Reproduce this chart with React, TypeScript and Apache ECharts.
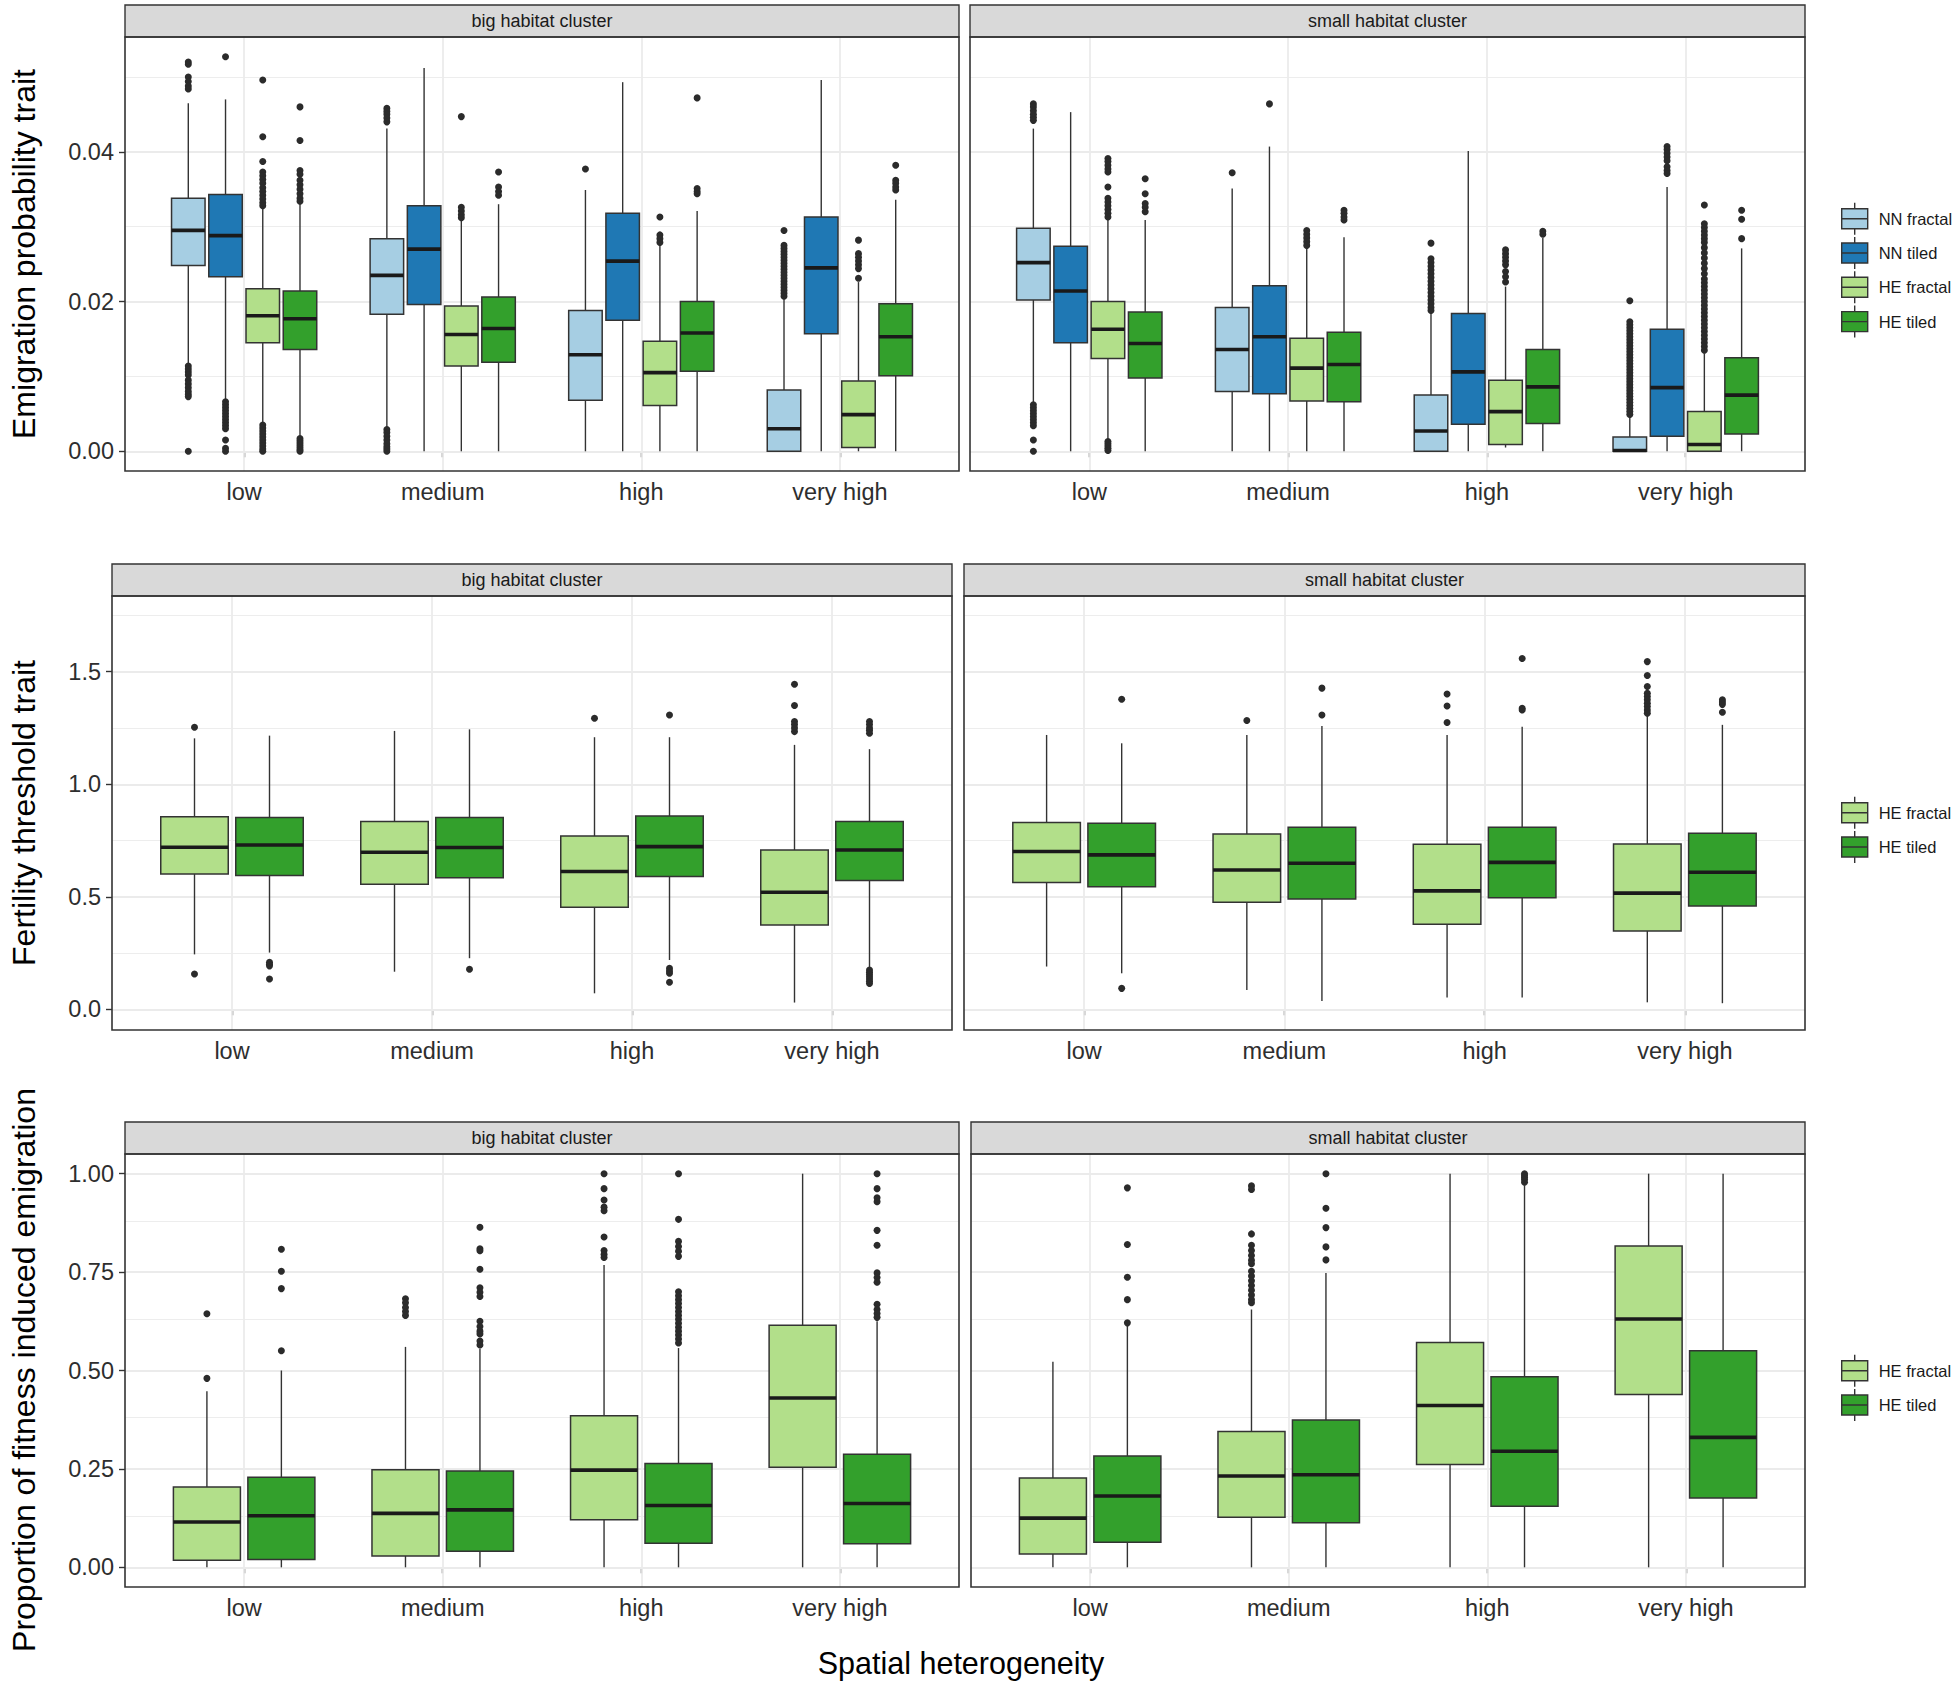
import React, { useEffect, useRef } from 'react';
import * as echarts from 'echarts';

const categories = ['low', 'medium', 'high', 'very high'];
const seriesNames = ['NN fractal', 'NN tiled', 'HE fractal', 'HE tiled'];
const seriesColors = ['#A6CEE3', '#1F78B4', '#B2DF8A', '#33A02C'];
const facetNames = ['big habitat cluster', 'small habitat cluster'];
const yTitles = ['Emigration probability trait', 'Fertility threshold trait', 'Proportion of fitness induced emigration'];
const xTitle = 'Spatial heterogeneity';

const emigTicks = [0, 0.02, 0.04];
const emigMinor = [0.01, 0.03, 0.05];
const fertTicks = [0, 0.5, 1.0, 1.5];
const fertMinor = [0.25, 0.75, 1.25, 1.75];
const propTicks = [0, 0.25, 0.5, 0.75, 1.0];
const propMinor = [0.125, 0.375, 0.625, 0.875];

// box stats per category: [min whisker, Q1, median, Q3, max whisker]
// ---- Emigration probability trait, big habitat cluster
const emigBigNNfractal = [[0.0118, 0.0248, 0.0295, 0.0338, 0.0465], [0.0031, 0.0183, 0.0235, 0.0284, 0.0431], [0.0, 0.0068, 0.0129, 0.0188, 0.0349], [0.0, 0.0, 0.0030, 0.0082, 0.0203]];
const emigBigNNfractalOut = [
  [0.0520, 0.0517, 0.0500, 0.0494, 0.0488, 0.0484, 0.0114, 0.0110, 0.0106, 0.0102, 0.0095, 0.0090, 0.0085, 0.0080, 0.0076, 0.0073, 0.0],
  [0.0458, 0.0454, 0.0450, 0.0445, 0.0440, 0.0029, 0.0025, 0.0020, 0.0015, 0.0010, 0.0006, 0.0003, 0.0],
  [0.0377],
  [0.0295, 0.0275, 0.0271, 0.0267, 0.0263, 0.0259, 0.0255, 0.0251, 0.0247, 0.0243, 0.0239, 0.0235, 0.0231, 0.0227, 0.0223, 0.0219, 0.0215, 0.0211, 0.0207],
];
const emigBigNNtiled = [[0.0068, 0.0233, 0.0288, 0.0343, 0.0470], [0.0, 0.0196, 0.0270, 0.0328, 0.0512], [0.0, 0.0175, 0.0254, 0.0318, 0.0493], [0.0, 0.0157, 0.0245, 0.0313, 0.0496]];
const emigBigNNtiledOut = [[0.0527, 0.0066, 0.0062, 0.0058, 0.0054, 0.0050, 0.0046, 0.0042, 0.0038, 0.0034, 0.0030, 0.0015, 0.0004, 0.0], [], [], []];
const emigBigHEfractal = [[0.0037, 0.0145, 0.0181, 0.0217, 0.0325], [0.0, 0.0114, 0.0156, 0.0194, 0.0309], [0.0, 0.0061, 0.0105, 0.0147, 0.0275], [0.0, 0.0005, 0.0049, 0.0094, 0.0226]];
const emigBigHEfractalOut = [
  [0.0496, 0.0420, 0.0387, 0.0373, 0.0368, 0.0363, 0.0358, 0.0352, 0.0347, 0.0342, 0.0337, 0.0332, 0.0328, 0.0035, 0.0031, 0.0027, 0.0023, 0.0019, 0.0015, 0.0011, 0.0007, 0.0003, 0.0],
  [0.0447, 0.0326, 0.0321, 0.0316, 0.0312],
  [0.0313, 0.0289, 0.0284, 0.0279],
  [0.0282, 0.0264, 0.0259, 0.0254, 0.0249, 0.0244, 0.0231],
];
const emigBigHEtiled = [[0.0018, 0.0136, 0.0177, 0.0214, 0.0331], [0.0, 0.0119, 0.0164, 0.0206, 0.0330], [0.0, 0.0107, 0.0158, 0.0200, 0.0321], [0.0, 0.0101, 0.0153, 0.0197, 0.0336]];
const emigBigHEtiledOut = [
  [0.0460, 0.0415, 0.0375, 0.0370, 0.0362, 0.0356, 0.0350, 0.0344, 0.0338, 0.0334, 0.0017, 0.0014, 0.0011, 0.0008, 0.0005, 0.0002, 0.0],
  [0.0373, 0.0353, 0.0347, 0.0342],
  [0.0472, 0.0351, 0.0347, 0.0344],
  [0.0382, 0.0362, 0.0358, 0.0353, 0.0349],
];
// ---- Emigration probability trait, small habitat cluster
const emigSmallNNfractal = [[0.0060, 0.0202, 0.0252, 0.0298, 0.0431], [0.0, 0.0080, 0.0136, 0.0192, 0.0351], [0.0, 0.0, 0.0027, 0.0075, 0.0186], [0.0, 0.0, 0.0001, 0.0019, 0.0047]];
const emigSmallNNfractalOut = [
  [0.0464, 0.0460, 0.0455, 0.0450, 0.0446, 0.0442, 0.0062, 0.0058, 0.0054, 0.0050, 0.0046, 0.0042, 0.0038, 0.0034, 0.0015, 0.0],
  [0.0372],
  [0.0278, 0.0257, 0.0252, 0.0247, 0.0242, 0.0237, 0.0232, 0.0227, 0.0222, 0.0217, 0.0212, 0.0207, 0.0202, 0.0197, 0.0192, 0.0188],
  [0.0201, 0.0173, 0.0169, 0.0165, 0.0161, 0.0157, 0.0153, 0.0149, 0.0145, 0.0141, 0.0137, 0.0133, 0.0129, 0.0125, 0.0121, 0.0117, 0.0113, 0.0109, 0.0105, 0.0101, 0.0097, 0.0093, 0.0089, 0.0085, 0.0081, 0.0077, 0.0073, 0.0069, 0.0065, 0.0061, 0.0057, 0.0053, 0.0049],
];
const emigSmallNNtiled = [[0.0, 0.0145, 0.0214, 0.0274, 0.0453], [0.0, 0.0077, 0.0153, 0.0221, 0.0407], [0.0, 0.0036, 0.0106, 0.0184, 0.0401], [0.0, 0.0020, 0.0085, 0.0163, 0.0353]];
const emigSmallNNtiledOut = [[], [0.0464], [], [0.0407, 0.0403, 0.0398, 0.0393, 0.0388, 0.0380, 0.0375, 0.0371]];
const emigSmallHEfractal = [[0.0015, 0.0124, 0.0163, 0.0200, 0.0311], [0.0, 0.0067, 0.0111, 0.0151, 0.0271], [0.0005, 0.0009, 0.0053, 0.0095, 0.0220], [0.0, 0.0, 0.0009, 0.0053, 0.0131]];
const emigSmallHEfractalOut = [
  [0.0391, 0.0387, 0.0382, 0.0377, 0.0373, 0.0353, 0.0338, 0.0333, 0.0328, 0.0323, 0.0318, 0.0313, 0.0013, 0.0010, 0.0007, 0.0004, 0.0001],
  [0.0295, 0.0290, 0.0285, 0.0280, 0.0275],
  [0.0269, 0.0264, 0.0259, 0.0254, 0.0249, 0.0240, 0.0233, 0.0226],
  [0.0329, 0.0304, 0.0299, 0.0294, 0.0289, 0.0284, 0.0279, 0.0272, 0.0265, 0.0258, 0.0251, 0.0244, 0.0237, 0.0230, 0.0225, 0.0220, 0.0215, 0.0210, 0.0205, 0.0200, 0.0195, 0.0190, 0.0185, 0.0180, 0.0175, 0.0170, 0.0165, 0.0160, 0.0155, 0.0150, 0.0145, 0.0140, 0.0135],
];
const emigSmallHEtiled = [[0.0, 0.0098, 0.0144, 0.0186, 0.0309], [0.0, 0.0066, 0.0116, 0.0159, 0.0286], [0.0, 0.0037, 0.0086, 0.0136, 0.0285], [0.0, 0.0023, 0.0075, 0.0125, 0.0271]];
const emigSmallHEtiledOut = [[0.0364, 0.0344, 0.0331, 0.0326, 0.0320], [0.0322, 0.0318, 0.0313, 0.0309], [0.0294, 0.0290], [0.0322, 0.0310, 0.0284]];

// ---- Fertility threshold trait
const fertBigHEfractal = [[0.244, 0.601, 0.720, 0.856, 1.204], [0.167, 0.556, 0.698, 0.834, 1.237], [0.071, 0.453, 0.612, 0.770, 1.209], [0.030, 0.375, 0.520, 0.708, 1.175]];
const fertBigHEfractalOut = [[1.253, 0.157], [], [1.293], [1.444, 1.350, 1.279, 1.265, 1.250, 1.234]];
const fertBigHEtiled = [[0.252, 0.594, 0.730, 0.852, 1.216], [0.227, 0.584, 0.719, 0.852, 1.244], [0.219, 0.590, 0.723, 0.859, 1.209], [0.182, 0.572, 0.708, 0.834, 1.156]];
const fertBigHEtiledOut = [[0.209, 0.200, 0.193, 0.135], [0.178], [1.308, 0.182, 0.170, 0.160, 0.120], [1.279, 1.265, 1.250, 1.240, 1.227, 0.175, 0.165, 0.155, 0.145, 0.135, 0.125, 0.115]];
const fertSmallHEfractal = [[0.190, 0.563, 0.701, 0.830, 1.219], [0.086, 0.476, 0.619, 0.779, 1.219], [0.052, 0.378, 0.526, 0.733, 1.219], [0.031, 0.348, 0.516, 0.735, 1.308]];
const fertSmallHEfractalOut = [[], [1.283], [1.401, 1.348, 1.274], [1.545, 1.483, 1.434, 1.404, 1.390, 1.375, 1.360, 1.345, 1.330, 1.316]];
const fertSmallHEtiled = [[0.160, 0.545, 0.686, 0.827, 1.182], [0.037, 0.490, 0.649, 0.809, 1.259], [0.052, 0.496, 0.653, 0.809, 1.256], [0.027, 0.459, 0.609, 0.782, 1.264]];
const fertSmallHEtiledOut = [[1.378, 0.093], [1.427, 1.308], [1.559, 1.338, 1.330], [1.375, 1.365, 1.355, 1.320]];

// ---- Proportion of fitness induced emigration
const propBigHEfractal = [[0, 0.018, 0.115, 0.204, 0.447], [0, 0.029, 0.137, 0.248, 0.560], [0, 0.121, 0.247, 0.385, 0.768], [0, 0.254, 0.430, 0.615, 1.0]];
const propBigHEfractalOut = [[0.480, 0.644], [0.682, 0.672, 0.660, 0.650, 0.640], [1.0, 0.962, 0.933, 0.915, 0.906, 0.839, 0.805, 0.795, 0.787], []];
const propBigHEtiled = [[0, 0.020, 0.131, 0.229, 0.500], [0, 0.041, 0.146, 0.245, 0.555], [0, 0.061, 0.157, 0.264, 0.557], [0, 0.060, 0.162, 0.287, 0.625]];
const propBigHEtiledOut = [
  [0.550, 0.708, 0.752, 0.808],
  [0.864, 0.809, 0.804, 0.757, 0.710, 0.699, 0.688, 0.625, 0.612, 0.600, 0.593, 0.575, 0.565],
  [1.0, 0.884, 0.828, 0.815, 0.803, 0.790, 0.700, 0.690, 0.680, 0.670, 0.660, 0.650, 0.640, 0.630, 0.620, 0.610, 0.600, 0.590, 0.580, 0.570],
  [1.0, 0.962, 0.939, 0.929, 0.856, 0.818, 0.748, 0.736, 0.724, 0.668, 0.655, 0.645, 0.635],
];
const propSmallHEfractal = [[0, 0.034, 0.125, 0.227, 0.522], [0, 0.127, 0.232, 0.345, 0.655], [0, 0.261, 0.411, 0.571, 1.0], [0, 0.439, 0.631, 0.816, 1.0]];
const propSmallHEfractalOut = [[], [0.969, 0.960, 0.847, 0.818, 0.805, 0.792, 0.780, 0.771, 0.752, 0.740, 0.728, 0.716, 0.704, 0.692, 0.680, 0.672], [], []];
const propSmallHEtiled = [[0, 0.064, 0.181, 0.283, 0.616], [0, 0.113, 0.235, 0.374, 0.748], [0, 0.155, 0.295, 0.484, 0.969], [0, 0.176, 0.330, 0.550, 1.0]];
const propSmallHEtiledOut = [[0.964, 0.820, 0.737, 0.680, 0.621], [1.0, 0.912, 0.863, 0.814, 0.781], [1.0, 0.995, 0.990, 0.985, 0.978], []];

const rowsData = [
  {
    seriesIdx: [0, 1, 2, 3], yMin: -0.002635, yMax: 0.055335, ticks: emigTicks, minor: emigMinor, dec: 2,
    facets: [
      { boxes: [emigBigNNfractal, emigBigNNtiled, emigBigHEfractal, emigBigHEtiled], outs: [emigBigNNfractalOut, emigBigNNtiledOut, emigBigHEfractalOut, emigBigHEtiledOut] },
      { boxes: [emigSmallNNfractal, emigSmallNNtiled, emigSmallHEfractal, emigSmallHEtiled], outs: [emigSmallNNfractalOut, emigSmallNNtiledOut, emigSmallHEfractalOut, emigSmallHEtiledOut] },
    ],
  },
  {
    seriesIdx: [2, 3], yMin: -0.092, yMax: 1.8365, ticks: fertTicks, minor: fertMinor, dec: 1,
    facets: [
      { boxes: [fertBigHEfractal, fertBigHEtiled], outs: [fertBigHEfractalOut, fertBigHEtiledOut] },
      { boxes: [fertSmallHEfractal, fertSmallHEtiled], outs: [fertSmallHEfractalOut, fertSmallHEtiledOut] },
    ],
  },
  {
    seriesIdx: [2, 3], yMin: -0.05, yMax: 1.05, ticks: propTicks, minor: propMinor, dec: 2,
    facets: [
      { boxes: [propBigHEfractal, propBigHEtiled], outs: [propBigHEfractalOut, propBigHEtiledOut] },
      { boxes: [propSmallHEfractal, propSmallHEtiled], outs: [propSmallHEfractalOut, propSmallHEtiledOut] },
    ],
  },
];

// layout (pixels)
const rowLayout = [
  { stripTop: 5, top: 37, bottom: 471, lefts: [125, 970], rights: [959, 1805], legendTop: 202, titleY: 254 },
  { stripTop: 564, top: 596, bottom: 1030, lefts: [112, 964], rights: [952, 1805], legendTop: 796, titleY: 813 },
  { stripTop: 1122, top: 1154, bottom: 1587, lefts: [125, 971], rights: [959, 1805], legendTop: 1354, titleY: 1370 },
];

const FONT = "'Liberation Sans', Arial, Helvetica, sans-serif";
const DARK = '#333333';
const GRID = '#EBEBEB';

function makeRender(boxW: number, color: string) {
  return (params: any, api: any) => {
    const x = api.value(0);
    const pMin = api.coord([x, api.value(1)]);
    const pQ1 = api.coord([x, api.value(2)]);
    const pMed = api.coord([x, api.value(3)]);
    const pQ3 = api.coord([x, api.value(4)]);
    const pMax = api.coord([x, api.value(5)]);
    const w = api.size([boxW, 0])[0];
    const cx = pMed[0];
    return {
      type: 'group',
      children: [
        { type: 'line', shape: { x1: cx, y1: pQ3[1], x2: cx, y2: pMax[1] }, style: { stroke: DARK, lineWidth: 1.4 } },
        { type: 'line', shape: { x1: cx, y1: pQ1[1], x2: cx, y2: pMin[1] }, style: { stroke: DARK, lineWidth: 1.4 } },
        { type: 'rect', shape: { x: cx - w / 2, y: pQ3[1], width: w, height: pQ1[1] - pQ3[1] }, style: { fill: color, stroke: DARK, lineWidth: 1.5 } },
        { type: 'line', shape: { x1: cx - w / 2, y1: pMed[1], x2: cx + w / 2, y2: pMed[1] }, style: { stroke: '#1A1A1A', lineWidth: 3.6 } },
      ],
    };
  };
}

function buildOption() {
  const grids: any[] = [];
  const xAxes: any[] = [];
  const yAxes: any[] = [];
  const series: any[] = [];
  const graphics: any[] = [];
  const legends: any[] = [];

  rowsData.forEach((row, r) => {
    const L = rowLayout[r];
    const n = row.seriesIdx.length;
    const boxW = 0.675 / n;
    const slot = 0.75 / n;
    row.facets.forEach((facet, c) => {
      const g = grids.length;
      const left = L.lefts[c];
      const right = L.rights[c];
      grids.push({ left, top: L.top, width: right - left, height: L.bottom - L.top, containLabel: false, outerBoundsMode: 'none' });
      xAxes.push({
        type: 'value', gridIndex: g, min: 0.4, max: 4.6,
        axisLine: { show: false },
        splitLine: { show: false },
        axisTick: { show: true, customValues: [1, 2, 3, 4], length: 6, lineStyle: { color: DARK, width: 1.4 } },
        axisLabel: {
          show: true, customValues: [1, 2, 3, 4], margin: 9, fontSize: 23.5, color: '#2E2E2E', fontFamily: FONT,
          formatter: (v: number) => categories[Math.round(v) - 1] ?? '',
        },
      });
      yAxes.push({
        type: 'value', gridIndex: g, min: row.yMin, max: row.yMax,
        show: c === 0,
        axisLine: { show: false },
        splitLine: { show: false },
        axisTick: { show: true, customValues: row.ticks, length: 6, lineStyle: { color: DARK, width: 1.4 } },
        axisLabel: {
          show: true, customValues: row.ticks, margin: 11, fontSize: 23.5, color: '#2E2E2E', fontFamily: FONT,
          formatter: (v: number) => v.toFixed(row.dec),
        },
      });
      // gridlines
      const ml: any[] = [];
      row.minor.forEach((v) => ml.push({ yAxis: v, lineStyle: { color: GRID, width: 0.9, type: 'solid' } }));
      row.ticks.forEach((v) => ml.push({ yAxis: v, lineStyle: { color: GRID, width: 1.8, type: 'solid' } }));
      categories.forEach((_, i) => ml.push({ xAxis: i + 1, lineStyle: { color: GRID, width: 1.8, type: 'solid' } }));
      series.push({
        type: 'scatter', name: 'gridlines', xAxisIndex: g, yAxisIndex: g, data: [], silent: true, z: 1,
        markLine: { silent: true, z: 1, symbol: ['none', 'none'], label: { show: false }, emphasis: { disabled: true }, animation: false, data: ml },
      });
      row.seriesIdx.forEach((si, k) => {
        const off = (k - (n - 1) / 2) * slot;
        const boxData = facet.boxes[k].map((b, ci) => [ci + 1 + off, ...b]);
        series.push({
          type: 'custom', name: seriesNames[si], xAxisIndex: g, yAxisIndex: g, z: 3, silent: true,
          itemStyle: { color: seriesColors[si] },
          encode: { x: 0, y: [1, 2, 3, 4, 5] },
          data: boxData,
          renderItem: makeRender(boxW, seriesColors[si]),
        });
        const outData: number[][] = [];
        facet.outs[k].forEach((arr, ci) => arr.forEach((v) => outData.push([ci + 1 + off, v])));
        series.push({
          type: 'scatter', name: seriesNames[si] + ' outliers', xAxisIndex: g, yAxisIndex: g, z: 4, silent: true,
          symbol: 'circle', symbolSize: 7, itemStyle: { color: '#2b2b2b', opacity: 1 }, data: outData,
        });
      });
      // strip + border
      graphics.push({
        type: 'rect', z: 10, silent: true,
        shape: { x: left, y: L.stripTop, width: right - left, height: L.top - L.stripTop },
        style: { fill: '#D9D9D9', stroke: DARK, lineWidth: 1.4 },
      });
      graphics.push({
        type: 'text', z: 11, silent: true, x: (left + right) / 2, y: (L.stripTop + L.top) / 2,
        style: { text: facetNames[c], align: 'center', verticalAlign: 'middle', fontSize: 18, fontFamily: FONT, fill: '#1A1A1A' },
      });
      graphics.push({
        type: 'rect', z: 10, silent: true,
        shape: { x: left, y: L.top, width: right - left, height: L.bottom - L.top },
        style: { fill: 'none', stroke: DARK, lineWidth: 1.6 },
      });
    });
    graphics.push({
      type: 'text', z: 11, silent: true, x: 24, y: L.titleY, rotation: Math.PI / 2,
      style: { text: yTitles[r], align: 'center', verticalAlign: 'middle', fontSize: 32, fontFamily: FONT, fill: '#000' },
    });
    legends.push({
      orient: 'vertical', left: 1841, top: L.legendTop, padding: 0, itemWidth: 26, itemHeight: 32, itemGap: 0.9,
      selectedMode: false,
      icon: 'path://M0,6H26V26H0Z M0,16H26 M13,0V6 M13,26V32',
      itemStyle: { borderColor: DARK, borderWidth: 1.4 },
      textStyle: { fontSize: 16.5, color: '#1A1A1A', fontFamily: FONT, padding: [0, 0, 0, 6] },
      data: row.seriesIdx.map((si) => seriesNames[si]),
    });
  });

  graphics.push({
    type: 'text', z: 11, silent: true, x: 961, y: 1663,
    style: { text: xTitle, align: 'center', verticalAlign: 'middle', fontSize: 30.5, fontFamily: FONT, fill: '#000' },
  });

  return {
    animation: false,
    backgroundColor: '#FFFFFF',
    textStyle: { fontFamily: FONT },
    grid: grids,
    xAxis: xAxes,
    yAxis: yAxes,
    legend: legends,
    series,
    graphic: { elements: graphics },
  };
}

export default function App() {
  const ref = useRef<HTMLDivElement>(null);
  useEffect(() => {
    const chart = echarts.init(ref.current as HTMLDivElement, null, { renderer: 'svg' });
    chart.setOption(buildOption() as any);
    return () => chart.dispose();
  }, []);
  return (
    <div
      ref={ref}
      style={{ position: 'absolute', left: 0, top: 0, width: 1960, height: 1682, background: '#fff' }}
    />
  );
}
